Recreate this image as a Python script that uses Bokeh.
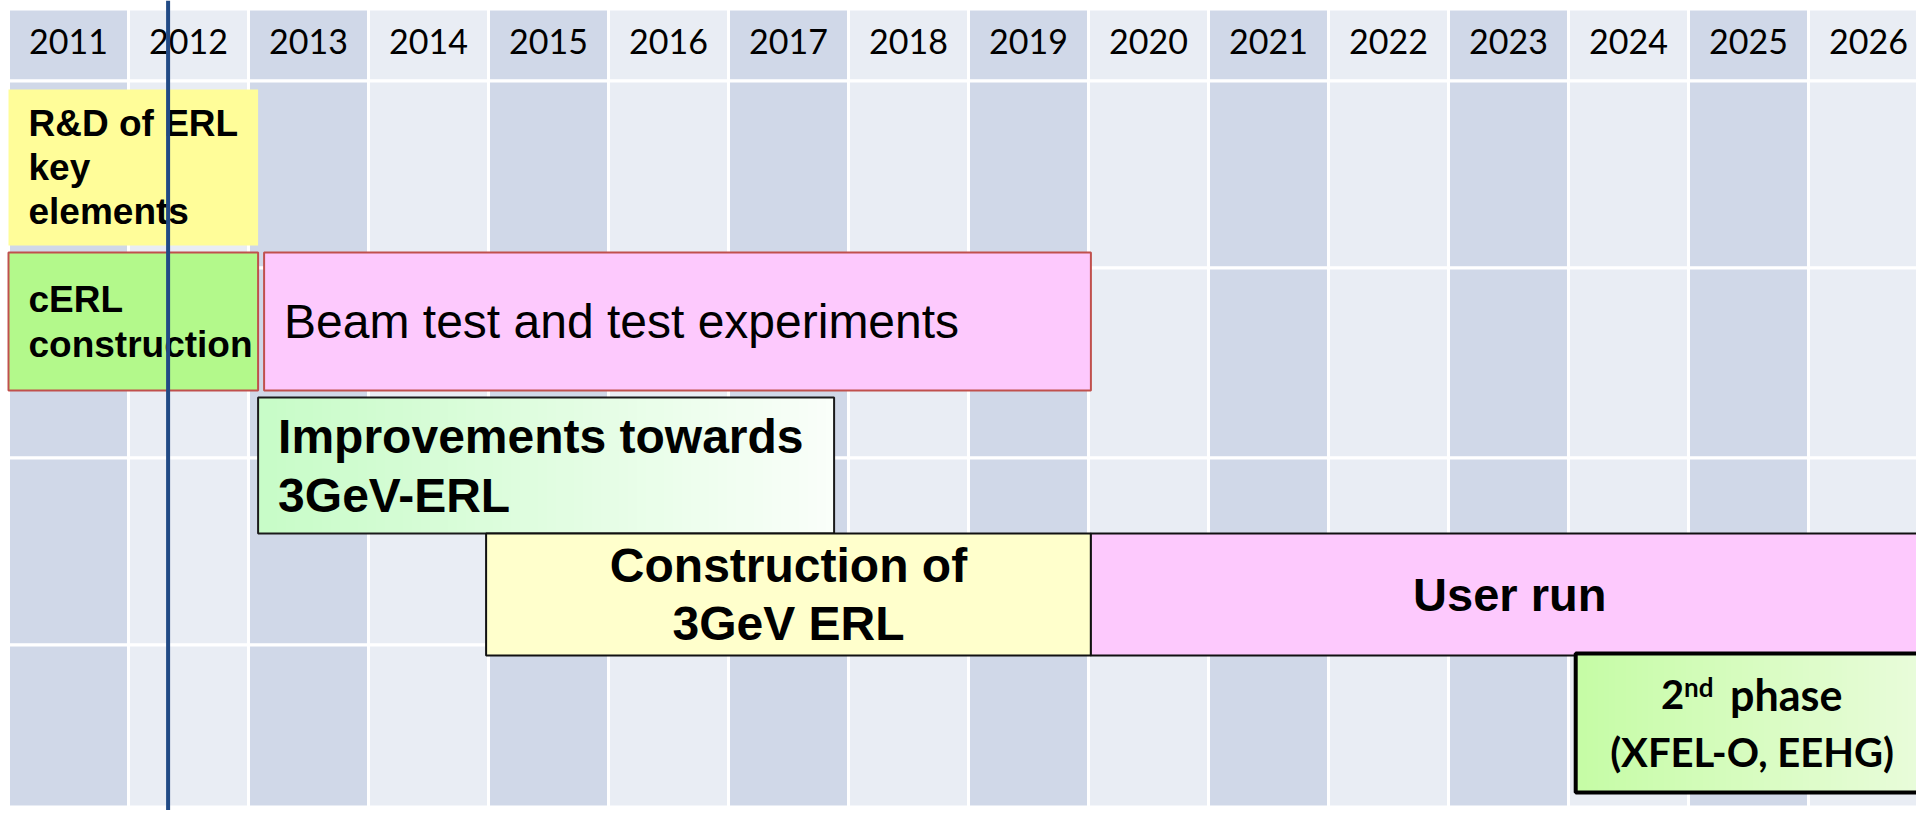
import numpy as np
from bokeh.plotting import figure
from bokeh.models import Range1d, Span
from bokeh.core.properties import value
from bokeh.embed import file_html
from bokeh.resources import INLINE

# ---------------- data ----------------
years = list(range(2011, 2027))
year_labels = [str(y) for y in years]

tasks = ["R&D of ERL key elements", "cERL construction",
         "Beam test and test experiments", "Improvements towards 3GeV-ERL",
         "Construction of 3GeV ERL", "User run", "2nd phase (XFEL-O, EEHG)"]
task_start = [2011.0, 2011.0, 2013.13, 2013.08, 2014.98, 2020.02, 2024.06]
task_end = [2013.08, 2013.08, 2020.02, 2017.88, 2020.02, 2027.0, 2027.0]
task_lines = [["R&D of ERL", "key", "elements"],
              ["cERL", "construction"],
              ["Beam test and test experiments"],
              ["Improvements towards", "3GeV-ERL"],
              ["Construction of", "3GeV ERL"],
              ["User run"],
              None]
current_time = 2012.33

# ---------------- layout / style ----------------
W, H = 1916, 810
PX_PER_YEAR = 120.0
LEFT_PAD = 8  # px before the first year column
FONT = "Liberation Sans"
HFONT = "Lato"

# lanes: (top, bottom) in vertical pixel units of the y axis
lanes = [(89, 245), (252, 390), (252, 390), (397, 533), (533, 655), (533, 655), (653, 792)]
fills = ["#FFFD99", "#B3F98B", "#FDC9FD", None, "#FFFFCC", "#FDC9FD", None]
gradients = {3: ((200, 252, 200), (250, 255, 250)), 6: ((198, 252, 166), (234, 253, 220))}
borders = [None, "#C0504D", "#C0504D", "#1A1A1A", "#111111", "#111111", "#000000"]
border_w = [0, 2, 2, 2, 2, 2, 4]
font_px = [37, 37, 48, 48, 48, 47, 40]
bold = [True, True, False, True, True, True, True]
align = ["left", "left", "left", "left", "center", "center", "center"]
spacing = [44, 45, 0, 59, 58, 0, 57]

rows = [(8.5, 80.5), (80.5, 267.5), (267.5, 457.5), (457.5, 644.5), (644.5, 806.5)]
dark, light = "#D0D8E8", "#E9EDF4"

x0r = years[0] - LEFT_PAD / PX_PER_YEAR
p = figure(width=W, height=H, output_backend="svg", toolbar_location=None,
           x_range=Range1d(x0r, x0r + W / PX_PER_YEAR),
           y_range=Range1d(H, 0), min_border=0)
p.axis.visible = False
p.grid.visible = False
p.outline_line_color = None
p.background_fill_color = "white"
p.border_fill_color = "white"

# table cells
cl, cr, ct, cb, cc = [], [], [], [], []
for i, y in enumerate(years):
    for (t, b) in rows:
        cl.append(y); cr.append(y + 1); ct.append(t); cb.append(b)
        cc.append(dark if i % 2 == 0 else light)
p.quad(left=cl, right=cr, top=ct, bottom=cb, fill_color=cc, line_color="white", line_width=3)

# year labels (y = visual centre of the digits)
p.text(x=[y + 0.5 for y in years], y=[41] * len(years), text=year_labels,
       text_font=value(HFONT), text_font_size="34px", text_align="center",
       text_baseline="alphabetic", text_color="#000000")

# task boxes
for i in range(len(tasks)):
    t, b = lanes[i]
    xa, xb = task_start[i], task_end[i]
    if i in gradients:
        c0, c1 = gradients[i]
        n = 64
        img = np.zeros((1, n), dtype=np.uint32)
        view = img.view(dtype=np.uint8).reshape((1, n, 4))
        for k in range(n):
            f = k / (n - 1)
            view[0, k, 0] = int(c0[0] + (c1[0] - c0[0]) * f)
            view[0, k, 1] = int(c0[1] + (c1[1] - c0[1]) * f)
            view[0, k, 2] = int(c0[2] + (c1[2] - c0[2]) * f)
            view[0, k, 3] = 255
        p.image_rgba(image=[img], x=xa, y=t, dw=xb - xa, dh=b - t)
        p.quad(left=[xa], right=[xb], top=[t], bottom=[b], fill_alpha=0,
               line_color=borders[i], line_width=border_w[i])
    else:
        p.quad(left=[xa], right=[xb], top=[t], bottom=[b], fill_color=fills[i],
               line_color=borders[i], line_width=border_w[i] if borders[i] else 0)

# task texts
for i in range(len(tasks)):
    t, b = lanes[i]
    lines = task_lines[i]
    if lines is None:
        continue
    size = font_px[i]
    center = (t + b) / 2.0
    n = len(lines)
    ys = [center + (k - (n - 1) / 2) * spacing[i] for k in range(n)]
    if align[i] == "left":
        xs = [task_start[i]] * n
        xo = 20
    else:
        xs = [(task_start[i] + task_end[i]) / 2] * n
        xo = 0
    p.text(x=xs, y=ys, text=lines, x_offset=xo, text_font=value(FONT),
           text_font_size=f"{size}px", text_font_style="bold" if bold[i] else "normal",
           text_align=align[i], text_baseline="alphabetic", text_color="#000000")

# 2nd phase text with superscript
i = 6
t, b = lanes[i]
cx = (task_start[i] + task_end[i]) / 2
center = (t + b) / 2.0
y1 = center - spacing[i] / 2
y2 = center + spacing[i] / 2
p.text(x=[cx], y=[y1], text=["2"], x_offset=-68, text_font=value(HFONT),
       text_font_size="40px", text_font_style="bold", text_align="right",
       text_baseline="alphabetic", text_color="#000000")
p.text(x=[cx], y=[y1 - 8], text=["nd"], x_offset=-68, text_font=value(HFONT),
       text_font_size="26px", text_font_style="bold", text_align="left",
       text_baseline="alphabetic", text_color="#000000")
p.text(x=[cx], y=[y1], text=["phase"], x_offset=-22, text_font=value(HFONT),
       text_font_size="43px", text_font_style="bold", text_align="left",
       text_baseline="alphabetic", text_color="#000000")
p.text(x=[cx], y=[y2], text=["(XFEL-O, EEHG)"], text_font=value(HFONT),
       text_font_size="40px", text_font_style="bold", text_align="center",
       text_baseline="alphabetic", text_color="#000000")

# current-time marker
p.add_layout(Span(location=current_time, dimension="height", line_color="#214A85", line_width=4))

open("out.html", "w").write(file_html(p, INLINE))
